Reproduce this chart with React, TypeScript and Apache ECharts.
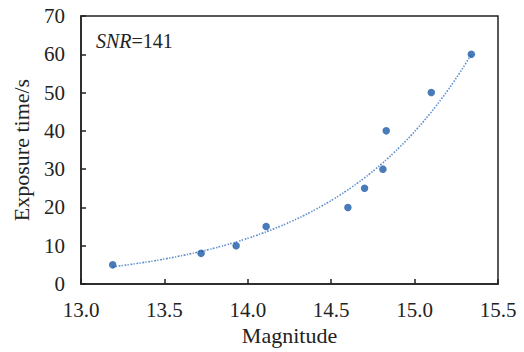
import React, { useEffect, useRef } from "react";
import * as echarts from "echarts";

const magnitude = [13.19, 13.72, 13.93, 14.11, 14.6, 14.7, 14.81, 14.83, 15.1, 15.34];
const exposure = [5, 8, 10, 15, 20, 25, 30, 40, 50, 60];
const xTicks = [13.0, 13.5, 14.0, 14.5, 15.0, 15.5];
const yTicks = [0, 10, 20, 30, 40, 50, 60, 70];
const annotation = "=141";

function expFit(xs: number[], ys: number[]) {
  const n = xs.length;
  const ly = ys.map((v) => Math.log(v));
  const mx = xs.reduce((a, b) => a + b, 0) / n;
  const my = ly.reduce((a, b) => a + b, 0) / n;
  let sxy = 0, sxx = 0;
  for (let i = 0; i < n; i++) {
    sxy += (xs[i] - mx) * (ly[i] - my);
    sxx += (xs[i] - mx) * (xs[i] - mx);
  }
  const b = sxy / sxx;
  const a = my - b * mx;
  return (x: number) => Math.exp(a + b * x);
}

export default function App() {
  const ref = useRef<HTMLDivElement>(null);
  useEffect(() => {
    if (!ref.current) return;
    const chart = echarts.init(ref.current, undefined, { renderer: "svg" });
    const f = expFit(magnitude, exposure);
    const x0 = Math.min(...magnitude);
    const x1 = Math.max(...magnitude);
    const trend: number[][] = [];
    const steps = 60;
    for (let i = 0; i <= steps; i++) {
      const x = x0 + ((x1 - x0) * i) / steps;
      trend.push([x, f(x)]);
    }
    const font = "Liberation Serif";
    const axisColor = "#222";
    const txt = "#222";
    chart.setOption({
      animation: false,
      textStyle: { fontFamily: font },
      grid: {
        left: 81,
        right: 26,
        top: 16,
        bottom: 68,
        show: true,
        borderColor: axisColor,
        borderWidth: 1.5,
      },
      xAxis: {
        type: "value",
        min: xTicks[0],
        max: xTicks[xTicks.length - 1],
        interval: 0.5,
        name: "Magnitude",
        nameLocation: "middle",
        nameGap: 33,
        nameTextStyle: { fontSize: 22, color: txt, fontFamily: font },
        axisLine: { show: true, lineStyle: { color: axisColor, width: 1.5 } },
        axisTick: { show: true, inside: true, length: 5, lineStyle: { color: axisColor, width: 1.5 } },
        axisLabel: {
          fontSize: 21,
          color: txt,
          fontFamily: font,
          margin: 15,
          formatter: (v: number) => v.toFixed(1),
        },
        splitLine: { show: false },
      },
      yAxis: {
        type: "value",
        min: yTicks[0],
        max: yTicks[yTicks.length - 1],
        interval: 10,
        name: "Exposure time/s",
        nameLocation: "middle",
        nameGap: 49,
        nameTextStyle: { fontSize: 22, color: txt, fontFamily: font },
        axisLine: { show: true, lineStyle: { color: axisColor, width: 1.5 } },
        axisTick: { show: true, inside: true, length: 5, lineStyle: { color: axisColor, width: 1.5 } },
        axisLabel: { fontSize: 21, color: txt, fontFamily: font, margin: 16 },
        splitLine: { show: false },
      },
      graphic: [
        {
          type: "text",
          left: 96,
          top: 31,
          style: {
            text: "{i|SNR}{n|" + annotation + "}",
            rich: {
              i: { fontSize: 20, fontStyle: "italic", fontFamily: font, fill: txt },
              n: { fontSize: 20, fontFamily: font, fill: txt },
            },
          },
        },
      ],
      series: [
        {
          type: "line",
          data: trend,
          showSymbol: false,
          symbol: "none",
          smooth: true,
          lineStyle: { color: "#5b8fd0", width: 1.6, type: [1.5, 1.5] },
          z: 1,
        },
        {
          type: "scatter",
          data: magnitude.map((x, i) => [x, exposure[i]]),
          symbolSize: 7.5,
          itemStyle: { color: "#1b5aa8" },
          z: 2,
        },
      ],
    });
    return () => chart.dispose();
  }, []);
  return <div ref={ref} style={{ width: 524, height: 352, position: "absolute", left: 0, top: 0 }} />;
}
